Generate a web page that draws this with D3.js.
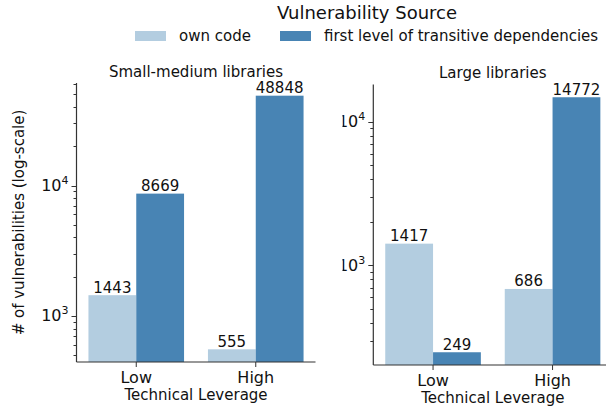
<!DOCTYPE html>
<html>
<head>
<meta charset="utf-8">
<script src="https://cdn.jsdelivr.net/npm/d3@7"></script>
<style>
  body { margin: 0; background: #fff; }
  svg { font-family: "DejaVu Sans", sans-serif; }
</style>
</head>
<body>
<svg width="606" height="412"></svg>
<script>
// data
var categories = ["Low", "High"],
    sources = ["own code", "first level of transitive dependencies"],
    smallOwn = [1443, 555],
    smallDeps = [8669, 48848],
    largeOwn = [1417, 686],
    largeDeps = [249, 14772];

var colors = ["#b3cde0", "#4884b4"];

var svg = d3.select("svg");

var panels = [
    {title: "Small-medium libraries", own: smallOwn, deps: smallDeps,
     left: 76.5, top: 83, bottom: 362, clipX: 0, ylabel: true},
    {title: "Large libraries", own: largeOwn, deps: largeDeps,
     left: 373.3, top: 84.5, bottom: 365, clipX: 342.5, ylabel: false}
];
var panelWidth = 239;

function isMajor(d) {
    return Math.abs(Math.log10(d) - Math.round(Math.log10(d))) < 1e-9;
}

panels.forEach(function (p, pi) {
    var g = svg.append("g");

    var rows = categories.map(function (c, i) {
        return {cat: c, values: [p.own[i], p.deps[i]]};
    });
    var all = p.own.concat(p.deps),
        lo = Math.log10(d3.min(all)),
        hi = Math.log10(d3.max(all)),
        pad = (hi - lo) * 0.05;

    var xScale = d3.scaleBand()
        .domain(categories)
        .range([p.left, p.left + panelWidth])
        .paddingInner(0.2)
        .paddingOuter(0.1);
    var xSub = d3.scaleBand()
        .domain(d3.range(sources.length))
        .range([0, xScale.bandwidth()]);
    var yScale = d3.scaleLog()
        .domain([Math.pow(10, lo - pad), Math.pow(10, hi + pad)])
        .range([p.bottom, p.top]);

    // bars
    var grp = g.selectAll(".grp")
        .data(rows)
        .enter().append("g")
        .attr("class", "grp")
        .attr("transform", function (d) { return "translate(" + xScale(d.cat) + ",0)"; });

    grp.selectAll("rect")
        .data(function (d) { return d.values; })
        .enter().append("rect")
        .attr("x", function (d, i) { return xSub(i); })
        .attr("width", xSub.bandwidth())
        .attr("y", function (d) { return yScale(d); })
        .attr("height", function (d) { return p.bottom - yScale(d); })
        .attr("fill", function (d, i) { return colors[i]; });

    grp.selectAll("text")
        .data(function (d) { return d.values; })
        .enter().append("text")
        .attr("x", function (d, i) { return xSub(i) + xSub.bandwidth() / 2; })
        .attr("y", function (d) { return yScale(d) - 2.5; })
        .attr("text-anchor", "middle")
        .style("font-size", "15px")
        .attr("fill", "#111")
        .text(function (d) { return d; });

    // y ticks (log, minor and major)
    var ticks = yScale.ticks();
    var yAxisG = g.append("g");
    yAxisG.selectAll("line")
        .data(ticks)
        .enter().append("line")
        .attr("x1", function (d) { return p.left - (isMajor(d) ? 5 : 3); })
        .attr("x2", p.left)
        .attr("y1", function (d) { return Math.round(yScale(d)) + 0.5; })
        .attr("y2", function (d) { return Math.round(yScale(d)) + 0.5; })
        .attr("stroke", "#333")
        .attr("stroke-width", 1);

    var majors = ticks.filter(isMajor);
    if (p.clipX) {
        svg.append("clipPath").attr("id", "clip" + pi)
            .append("rect").attr("x", p.clipX).attr("y", 0)
            .attr("width", 606 - p.clipX).attr("height", 412);
    }
    var lab = yAxisG.append("g")
        .attr("clip-path", p.clipX ? "url(#clip" + pi + ")" : null)
        .selectAll("text")
        .data(majors)
        .enter().append("text")
        .attr("x", p.left - 8)
        .attr("y", function (d) { return yScale(d) + 5.5; })
        .attr("text-anchor", "end")
        .style("font-size", "16px")
        .attr("fill", "#111");
    lab.append("tspan").text("10");
    lab.append("tspan")
        .attr("dy", -7)
        .style("font-size", "11px")
        .text(function (d) { return Math.round(Math.log10(d)); });

    // x ticks
    categories.forEach(function (c) {
        var cx = xScale(c) + xScale.bandwidth() / 2;
        g.append("line")
            .attr("x1", cx).attr("x2", cx)
            .attr("y1", p.bottom).attr("y2", p.bottom + 5)
            .attr("stroke", "#333");
        g.append("text")
            .attr("x", cx)
            .attr("y", p.bottom + 21)
            .attr("text-anchor", "middle")
            .style("font-size", "16px")
            .attr("fill", "#111")
            .text(c);
    });

    // spines
    g.append("line")
        .attr("x1", p.left).attr("x2", p.left)
        .attr("y1", p.top).attr("y2", p.bottom)
        .attr("stroke", "#333").attr("stroke-width", 1.2);
    g.append("line")
        .attr("x1", p.left).attr("x2", p.left + panelWidth)
        .attr("y1", p.bottom).attr("y2", p.bottom)
        .attr("stroke", "#333").attr("stroke-width", 1.2);

    // titles and labels
    g.append("text")
        .attr("x", p.left + panelWidth / 2)
        .attr("y", p.top - 6.5)
        .attr("text-anchor", "middle")
        .style("font-size", "15px")
        .attr("fill", "#111")
        .text(p.title);
    g.append("text")
        .attr("x", p.left + panelWidth / 2)
        .attr("y", p.bottom + 38)
        .attr("text-anchor", "middle")
        .style("font-size", "15px")
        .attr("fill", "#111")
        .text("Technical Leverage");
    if (p.ylabel) {
        g.append("text")
            .attr("transform", "translate(24," + ((p.top + p.bottom) / 2) + ") rotate(-90)")
            .attr("text-anchor", "middle")
            .style("font-size", "15px")
            .attr("fill", "#111")
            .text("# of vulnerabilities (log-scale)");
    }
});

// legend
var legend = svg.append("g");
legend.append("text")
    .attr("x", 367)
    .attr("y", 18.5)
    .attr("text-anchor", "middle")
    .style("font-size", "18px")
    .attr("fill", "#111")
    .text("Vulnerability Source");
var legendX = [135, 280];
sources.forEach(function (s, i) {
    legend.append("rect")
        .attr("x", legendX[i]).attr("y", 31)
        .attr("width", 31).attr("height", 10)
        .attr("fill", colors[i]);
    legend.append("text")
        .attr("x", legendX[i] + 44)
        .attr("y", 41)
        .style("font-size", "15px")
        .attr("fill", "#111")
        .text(s);
});
</script>
</body>
</html>
